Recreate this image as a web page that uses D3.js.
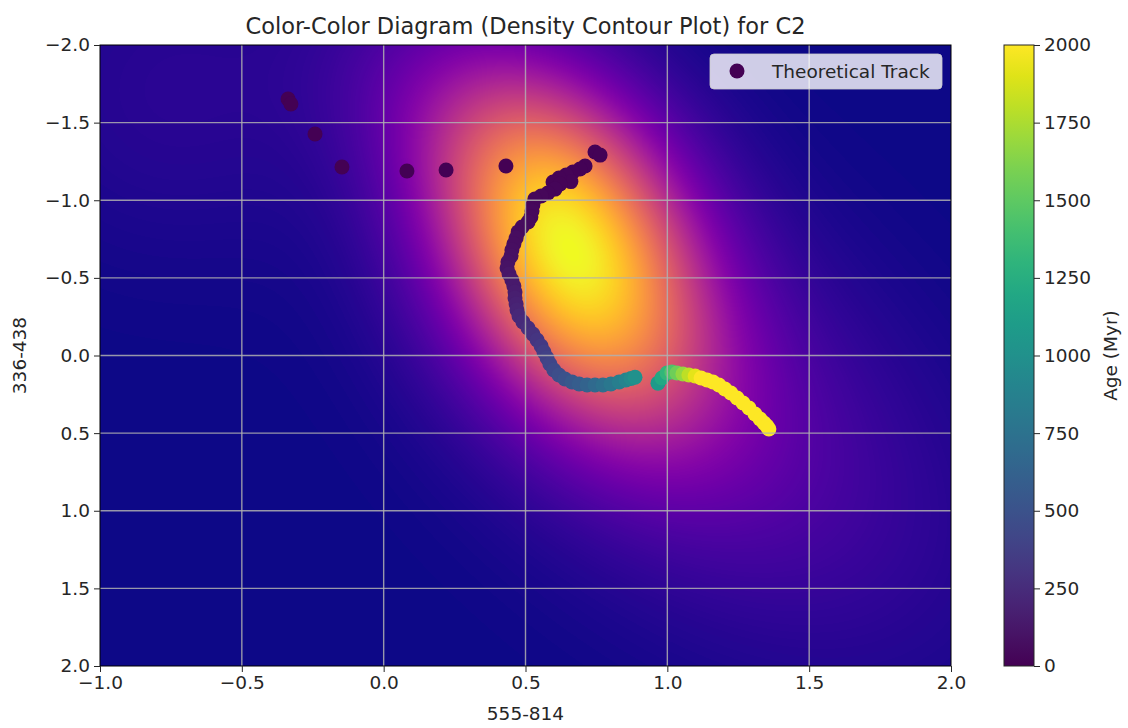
<!DOCTYPE html>
<html>
<head>
<meta charset="utf-8">
<script src="https://cdn.jsdelivr.net/npm/d3@7"></script>
<style>
  html, body { margin: 0; padding: 0; background: #ffffff; }
  svg text { font-family: "DejaVu Sans", sans-serif; fill: #262626; }
</style>
</head>
<body>
<svg id="chart" width="1128" height="728"></svg>
<script>
// Axis ticks
const xTicks = [-1.0, -0.5, 0.0, 0.5, 1.0, 1.5, 2.0];
const yTicks = [-2.0, -1.5, -1.0, -0.5, 0.0, 0.5, 1.0, 1.5, 2.0];
const ageTicks = [0, 250, 500, 750, 1000, 1250, 1500, 1750, 2000];

// Density components of the observed colour distribution (KDE approximation)
const densCx     = [0.64, 0.77, 1.10, 0.25, -0.75];
const densCy     = [-0.83, -0.02, 0.30, -1.60, -1.71];
const densSx     = [0.31, 0.33, 0.58, 0.32, 0.39];
const densSy     = [0.66, 0.58, 1.00, 0.52, 0.71];
const densRho    = [0.30, 0.35, 0.50, 0.30, 0.0];
const densWeight = [1.00, 0.30, 0.19, 0.14, 0.06];

// Theoretical evolutionary track: colour 555-814, colour 336-438, age (Myr)
const trackX = [
  -0.337, -0.327, -0.242, -0.147, 0.082, 0.220, 0.431, 0.745, 0.763,
  0.710, 0.692, 0.667, 0.643, 0.660, 0.618, 0.597, 0.622, 0.604, 0.579, 0.555,
  0.533, 0.526, 0.523, 0.519, 0.509, 0.488, 0.474, 0.467, 0.459, 0.452,
  0.449, 0.438, 0.435, 0.442, 0.452, 0.459, 0.463, 0.463, 0.467, 0.470,
  0.477, 0.491, 0.509, 0.526, 0.541, 0.555, 0.565, 0.576, 0.586, 0.600,
  0.618, 0.639, 0.664, 0.689, 0.717, 0.745, 0.773, 0.801, 0.830, 0.854,
  0.872, 0.886,
  0.967, 0.981, 0.999, 1.016, 1.034, 1.055, 1.076, 1.098, 1.119, 1.140,
  1.161, 1.182, 1.203, 1.224, 1.246, 1.267, 1.288, 1.309, 1.327, 1.341,
  1.351, 1.358
];
const trackY = [
  -1.652, -1.620, -1.427, -1.214, -1.188, -1.195, -1.221, -1.311, -1.291,
  -1.221, -1.201, -1.182, -1.163, -1.120, -1.143, -1.118, -1.105, -1.072, -1.047, -1.027,
  -1.008, -0.969, -0.931, -0.892, -0.860, -0.828, -0.796, -0.757, -0.718, -0.680,
  -0.641, -0.602, -0.564, -0.525, -0.486, -0.448, -0.409, -0.370, -0.332, -0.293,
  -0.254, -0.216, -0.177, -0.138, -0.100, -0.061, -0.023, 0.016, 0.055, 0.093,
  0.126, 0.151, 0.171, 0.184, 0.190, 0.190, 0.190, 0.184, 0.171, 0.158,
  0.148, 0.140,
  0.178, 0.145, 0.113, 0.106, 0.113, 0.119, 0.126, 0.132, 0.145, 0.158,
  0.171, 0.190, 0.216, 0.242, 0.274, 0.306, 0.338, 0.377, 0.409, 0.435,
  0.454, 0.473
];
const trackAge = [
  1, 2, 3, 4, 5, 6, 7, 8, 9,
  10, 12, 14, 16, 17, 18, 20, 23, 26, 29, 32,
  35, 38, 42, 46, 50, 55, 60, 65, 70, 76,
  82, 88, 95, 110, 125, 140, 155, 170, 185, 200,
  220, 240, 260, 285, 310, 335, 360, 385, 410, 440,
  470, 500, 540, 580, 630, 680, 730, 790, 850, 900,
  950, 1000,
  1080, 1200, 1320, 1440, 1560, 1680, 1800, 1920, 2000, 2100,
  2200, 2300, 2400, 2500, 2600, 2700, 2800, 2900, 3000, 3100,
  3200, 3300
];

const svg = d3.select("#chart");
const plot = { left: 100, right: 951, top: 45, bottom: 666 };
const x = d3.scaleLinear().domain([-1, 2]).range([plot.left, plot.right]);
const y = d3.scaleLinear().domain([-2, 2]).range([plot.top, plot.bottom]);
const ageColor = d3.scaleSequential(d3.interpolateViridis).domain([0, 2000]).clamp(true);
const fmt = v => d3.format(".1f")(v).replace("-", "\u2212");
const FS = 18.5;

// ---- density image ----
const pw = plot.right - plot.left, ph = plot.bottom - plot.top;
const canvas = document.createElement("canvas");
canvas.width = pw; canvas.height = ph;
const ctx = canvas.getContext("2d");
const img = ctx.createImageData(pw, ph);
const field = new Float64Array(pw * ph);
let fmax = 0;
for (let j = 0; j < ph; j++) {
  const dy0 = y.invert(plot.top + j + 0.5);
  for (let i = 0; i < pw; i++) {
    const dx0 = x.invert(plot.left + i + 0.5);
    let v = 0;
    for (let k = 0; k < densCx.length; k++) {
      const u = (dx0 - densCx[k]) / densSx[k];
      const w = (dy0 - densCy[k]) / densSy[k];
      const r = densRho[k];
      const q = (u * u - 2 * r * u * w + w * w) / (1 - r * r);
      v += densWeight[k] * Math.exp(-0.5 * q);
    }
    field[j * pw + i] = v;
    if (v > fmax) fmax = v;
  }
}
const density = d3.scaleLinear().domain([0, fmax]).range([0, 1]).clamp(true);
for (let p = 0; p < field.length; p++) {
  const c = d3.rgb(d3.interpolatePlasma(density(field[p])));
  img.data[p * 4] = c.r; img.data[p * 4 + 1] = c.g; img.data[p * 4 + 2] = c.b; img.data[p * 4 + 3] = 255;
}
ctx.putImageData(img, 0, 0);
svg.append("image")
  .attr("x", plot.left).attr("y", plot.top)
  .attr("width", pw).attr("height", ph)
  .attr("preserveAspectRatio", "none")
  .attr("href", canvas.toDataURL());

// ---- track points ----
const track = trackX.map((v, i) => ({ x: v, y: trackY[i], age: trackAge[i] }));
svg.append("g").selectAll("circle").data(track).join("circle")
  .attr("cx", d => x(d.x)).attr("cy", d => y(d.y))
  .attr("r", 7.5)
  .attr("fill", d => ageColor(d.age));

// ---- grid ----
const grid = svg.append("g").attr("stroke", "#b0b0b0").attr("stroke-width", 1.4).attr("stroke-opacity", 0.85);
grid.selectAll(".gx").data(xTicks.slice(1, -1)).join("line")
  .attr("x1", d => x(d)).attr("x2", d => x(d)).attr("y1", plot.top).attr("y2", plot.bottom);
grid.selectAll(".gy").data(yTicks.slice(1, -1)).join("line")
  .attr("y1", d => y(d)).attr("y2", d => y(d)).attr("x1", plot.left).attr("x2", plot.right);

// ---- frame ----
svg.append("rect").attr("x", plot.left).attr("y", plot.top).attr("width", pw).attr("height", ph)
  .attr("fill", "none").attr("stroke", "#000").attr("stroke-width", 1);

// ---- axes ----
const ax = svg.append("g").attr("transform", `translate(0,${plot.bottom})`)
  .call(d3.axisBottom(x).tickValues(xTicks).tickFormat(fmt).tickSize(6).tickPadding(4));
const ay = svg.append("g").attr("transform", `translate(${plot.left},0)`)
  .call(d3.axisLeft(y).tickValues(yTicks).tickFormat(fmt).tickSize(6).tickPadding(4));
[ax, ay].forEach(g => {
  g.select(".domain").remove();
  g.selectAll("line").attr("stroke", "#262626");
  g.selectAll("text").attr("font-size", FS).attr("font-family", "DejaVu Sans").attr("fill", "#262626");
});

svg.append("text").attr("x", (plot.left + plot.right) / 2).attr("y", 720)
  .attr("text-anchor", "middle").attr("font-size", FS).text("555-814");
svg.append("text").attr("transform", `translate(26,${(plot.top + plot.bottom) / 2}) rotate(-90)`)
  .attr("text-anchor", "middle").attr("font-size", FS).text("336-438");
svg.append("text").attr("x", (plot.left + plot.right) / 2).attr("y", 34)
  .attr("text-anchor", "middle").attr("font-size", 22.5).text("Color-Color Diagram (Density Contour Plot) for C2");

// ---- legend ----
const lg = svg.append("g");
lg.append("rect").attr("x", 710).attr("y", 54).attr("width", 232).attr("height", 35).attr("rx", 4)
  .attr("fill", "#ffffff").attr("fill-opacity", 0.8).attr("stroke", "#cccccc").attr("stroke-opacity", 0.8);
lg.append("circle").attr("cx", 737).attr("cy", 71).attr("r", 7.5).attr("fill", ageColor(0));
lg.append("text").attr("x", 772).attr("y", 77.5).attr("font-size", FS).text("Theoretical Track");

// ---- colorbar ----
const cb = { x: 1004, w: 30 };
const cbScale = d3.scaleLinear().domain([0, 2000]).range([plot.bottom, plot.top]);
const defs = svg.append("defs");
const grad = defs.append("linearGradient").attr("id", "viridisGrad")
  .attr("x1", 0).attr("y1", 1).attr("x2", 0).attr("y2", 0);
d3.range(0, 1.0001, 0.05).forEach(t => {
  grad.append("stop").attr("offset", t).attr("stop-color", d3.interpolateViridis(t));
});
svg.append("rect").attr("x", cb.x).attr("y", plot.top).attr("width", cb.w).attr("height", ph)
  .attr("fill", "url(#viridisGrad)").attr("stroke", "#262626").attr("stroke-width", 1);
const ac = svg.append("g").attr("transform", `translate(${cb.x + cb.w},0)`)
  .call(d3.axisRight(cbScale).tickValues(ageTicks).tickFormat(d3.format("d")).tickSize(6).tickPadding(4));
ac.select(".domain").remove();
ac.selectAll("line").attr("stroke", "#262626");
ac.selectAll("text").attr("font-size", FS).attr("font-family", "DejaVu Sans").attr("fill", "#262626");
svg.append("text").attr("transform", `translate(1117,${(plot.top + plot.bottom) / 2}) rotate(-90)`)
  .attr("text-anchor", "middle").attr("font-size", FS).text("Age (Myr)");
</script>
</body>
</html>
